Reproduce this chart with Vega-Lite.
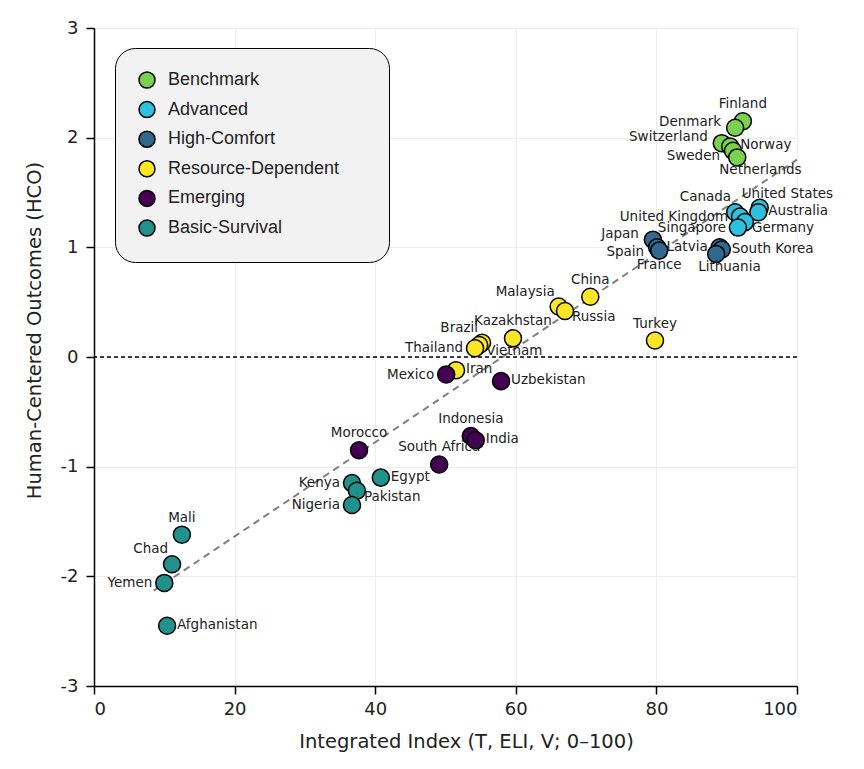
{
  "$schema": "https://vega.github.io/schema/vega-lite/v6.json",
  "width": 703,
  "height": 658,
  "autosize": {"type": "none"},
  "padding": {"left": 94, "top": 28, "right": 67, "bottom": 83},
  "background": "white",
  "config": {"view": {"stroke": null}, "font": "DejaVu Sans"},
  "datasets": {
    "countries": [
      {"country": "Finland", "group": "Benchmark", "x": 92.3, "y": 2.15, "pos": "T"},
      {"country": "Denmark", "group": "Benchmark", "x": 91.2, "y": 2.09, "pos": "LU"},
      {"country": "Switzerland", "group": "Benchmark", "x": 89.3, "y": 1.95, "pos": "LU"},
      {"country": "Norway", "group": "Benchmark", "x": 90.5, "y": 1.92, "pos": "R"},
      {"country": "Sweden", "group": "Benchmark", "x": 90.9, "y": 1.88, "pos": "LD"},
      {"country": "Netherlands", "group": "Benchmark", "x": 91.5, "y": 1.82, "pos": "BX"},
      {"country": "Canada", "group": "Advanced", "x": 91.2, "y": 1.32, "pos": "TL"},
      {"country": "United States", "group": "Advanced", "x": 94.7, "y": 1.36, "pos": "TX"},
      {"country": "Australia", "group": "Advanced", "x": 94.5, "y": 1.32, "pos": "R"},
      {"country": "United Kingdom", "group": "Advanced", "x": 91.9, "y": 1.28, "pos": "L"},
      {"country": "Germany", "group": "Advanced", "x": 92.6, "y": 1.23, "pos": "BR"},
      {"country": "Singapore", "group": "Advanced", "x": 91.6, "y": 1.18, "pos": "L"},
      {"country": "Japan", "group": "High-Comfort", "x": 79.5, "y": 1.07, "pos": "LU"},
      {"country": "Spain", "group": "High-Comfort", "x": 80.1, "y": 1.0, "pos": "LD"},
      {"country": "France", "group": "High-Comfort", "x": 80.4, "y": 0.97, "pos": "B"},
      {"country": "Latvia", "group": "High-Comfort", "x": 89.0, "y": 1.0, "pos": "L"},
      {"country": "South Korea", "group": "High-Comfort", "x": 89.3, "y": 0.98, "pos": "R"},
      {"country": "Lithuania", "group": "High-Comfort", "x": 88.5, "y": 0.94, "pos": "BX"},
      {"country": "China", "group": "Resource-Dependent", "x": 70.6, "y": 0.55, "pos": "T"},
      {"country": "Malaysia", "group": "Resource-Dependent", "x": 66.1, "y": 0.46, "pos": "TL"},
      {"country": "Russia", "group": "Resource-Dependent", "x": 67.0, "y": 0.42, "pos": "BR"},
      {"country": "Kazakhstan", "group": "Resource-Dependent", "x": 59.6, "y": 0.17, "pos": "T"},
      {"country": "Brazil", "group": "Resource-Dependent", "x": 55.2, "y": 0.13, "pos": "TL"},
      {"country": "Vietnam", "group": "Resource-Dependent", "x": 54.8, "y": 0.11, "pos": "BR"},
      {"country": "Thailand", "group": "Resource-Dependent", "x": 54.2, "y": 0.08, "pos": "L"},
      {"country": "Iran", "group": "Resource-Dependent", "x": 51.5, "y": -0.12, "pos": "R"},
      {"country": "Turkey", "group": "Resource-Dependent", "x": 79.8, "y": 0.15, "pos": "T"},
      {"country": "Mexico", "group": "Emerging", "x": 50.1, "y": -0.16, "pos": "L"},
      {"country": "Uzbekistan", "group": "Emerging", "x": 57.9, "y": -0.22, "pos": "R"},
      {"country": "Indonesia", "group": "Emerging", "x": 53.6, "y": -0.72, "pos": "T"},
      {"country": "India", "group": "Emerging", "x": 54.3, "y": -0.76, "pos": "R"},
      {"country": "Morocco", "group": "Emerging", "x": 37.7, "y": -0.85, "pos": "T"},
      {"country": "South Africa", "group": "Emerging", "x": 49.1, "y": -0.98, "pos": "T"},
      {"country": "Egypt", "group": "Basic-Survival", "x": 40.8, "y": -1.1, "pos": "R"},
      {"country": "Kenya", "group": "Basic-Survival", "x": 36.7, "y": -1.15, "pos": "L"},
      {"country": "Pakistan", "group": "Basic-Survival", "x": 37.4, "y": -1.22, "pos": "BR"},
      {"country": "Nigeria", "group": "Basic-Survival", "x": 36.7, "y": -1.35, "pos": "L"},
      {"country": "Mali", "group": "Basic-Survival", "x": 12.5, "y": -1.62, "pos": "T"},
      {"country": "Chad", "group": "Basic-Survival", "x": 11.1, "y": -1.89, "pos": "TL"},
      {"country": "Yemen", "group": "Basic-Survival", "x": 10.0, "y": -2.06, "pos": "L"},
      {"country": "Afghanistan", "group": "Basic-Survival", "x": 10.4, "y": -2.45, "pos": "R"}
    ],
    "fit": [{"x": 8.5, "y": -2.13}, {"x": 100, "y": 1.8}],
    "zero": [{"y": 0}]
  },
  "layer": [
    {
      "data": {"name": "countries"},
      "mark": {"type": "circle", "opacity": 0},
      "encoding": {
        "x": {
          "field": "x", "type": "quantitative",
          "title": "Integrated Index (T, ELI, V; 0–100)",
          "scale": {"domain": [0, 100], "nice": false, "zero": false},
          "axis": {
            "values": [0, 20, 40, 60, 80, 100],
            "labelExpr": "'' + datum.value",
            "grid": true, "gridColor": "#ededed", "gridWidth": 1,
            "domainColor": "black", "domainWidth": 1.5,
            "tickColor": "black", "tickSize": 8, "tickWidth": 1.5,
            "labelFont": "DejaVu Sans", "labelFontSize": 18, "labelColor": "#222", "labelPadding": 6,
            "titleFont": "DejaVu Sans", "titleFontSize": 19.5, "titleFontWeight": "normal", "titleColor": "#222",
            "titlePadding": 14, "titleX": 372
          }
        },
        "y": {
          "field": "y", "type": "quantitative",
          "title": "Human-Centered Outcomes (HCO)",
          "scale": {"domain": [-3, 3], "nice": false, "zero": false},
          "axis": {
            "values": [-3, -2, -1, 0, 1, 2, 3],
            "labelExpr": "'' + datum.value",
            "grid": true, "gridColor": "#ededed", "gridWidth": 1,
            "domainColor": "black", "domainWidth": 1.5,
            "tickColor": "black", "tickSize": 8, "tickWidth": 1.5,
            "labelFont": "DejaVu Sans", "labelFontSize": 18, "labelColor": "#222", "labelPadding": 8,
            "titleFont": "DejaVu Sans", "titleFontSize": 19.5, "titleFontWeight": "normal", "titleColor": "#222",
            "titlePadding": 16, "titleY": 302
          }
        }
      }
    },
    {
      "data": {"name": "zero"},
      "mark": {"type": "rule", "color": "black", "strokeDash": [4, 3], "strokeWidth": 1.3},
      "encoding": {"y": {"field": "y", "type": "quantitative"}}
    },
    {
      "data": {"name": "fit"},
      "mark": {"type": "line", "color": "#808080", "strokeDash": [7, 5], "strokeWidth": 2},
      "encoding": {
        "x": {"field": "x", "type": "quantitative"},
        "y": {"field": "y", "type": "quantitative"}
      }
    },
    {
      "data": {"name": "countries"},
      "mark": {"type": "circle", "size": 290, "stroke": "black", "strokeWidth": 1.5, "opacity": 1},
      "encoding": {
        "x": {"field": "x", "type": "quantitative"},
        "y": {"field": "y", "type": "quantitative"},
        "fill": {
          "field": "group", "type": "nominal",
          "scale": {
            "domain": ["Benchmark", "Advanced", "High-Comfort", "Resource-Dependent", "Emerging", "Basic-Survival"],
            "range": ["#7ad151", "#2ec0df", "#31688e", "#fde725", "#440154", "#21918c"]
          },
          "legend": {
            "orient": "none", "legendX": 21, "legendY": 20, "title": null,
            "fillColor": "#f2f2f2", "strokeColor": "black", "cornerRadius": 20,
            "padding": 23, "symbolType": "circle", "symbolSize": 256,
            "symbolStrokeColor": "black", "symbolStrokeWidth": 1.5,
            "labelFont": "Liberation Sans", "labelFontSize": 18, "labelColor": "#222",
            "labelOffset": 12, "rowPadding": 7.6, "labelLimit": 400,
            "labelExpr": "datum.label + '\u2800\u2800'",
            "encode": {"legend": {"update": {"strokeWidth": {"value": 1.5}}}}
          }
        }
      }
    },
    {
      "data": {"name": "countries"},
      "transform": [{"filter": "datum.pos === 'R'"}],
      "mark": {"type": "text", "font": "DejaVu Sans", "fontSize": 13.5, "color": "#222", "align": "left", "baseline": "middle", "dx": 10, "dy": -1},
      "encoding": {"x": {"field": "x", "type": "quantitative"}, "y": {"field": "y", "type": "quantitative"}, "text": {"field": "country"}}
    },
    {
      "data": {"name": "countries"},
      "transform": [{"filter": "datum.pos === 'L'"}],
      "mark": {"type": "text", "font": "DejaVu Sans", "fontSize": 13.5, "color": "#222", "align": "right", "baseline": "middle", "dx": -12, "dy": 0},
      "encoding": {"x": {"field": "x", "type": "quantitative"}, "y": {"field": "y", "type": "quantitative"}, "text": {"field": "country"}}
    },
    {
      "data": {"name": "countries"},
      "transform": [{"filter": "datum.pos === 'LU'"}],
      "mark": {"type": "text", "font": "DejaVu Sans", "fontSize": 13.5, "color": "#222", "align": "right", "baseline": "middle", "dx": -14, "dy": -6},
      "encoding": {"x": {"field": "x", "type": "quantitative"}, "y": {"field": "y", "type": "quantitative"}, "text": {"field": "country"}}
    },
    {
      "data": {"name": "countries"},
      "transform": [{"filter": "datum.pos === 'LD'"}],
      "mark": {"type": "text", "font": "DejaVu Sans", "fontSize": 13.5, "color": "#222", "align": "right", "baseline": "middle", "dx": -13, "dy": 5},
      "encoding": {"x": {"field": "x", "type": "quantitative"}, "y": {"field": "y", "type": "quantitative"}, "text": {"field": "country"}}
    },
    {
      "data": {"name": "countries"},
      "transform": [{"filter": "datum.pos === 'T'"}],
      "mark": {"type": "text", "font": "DejaVu Sans", "fontSize": 13.5, "color": "#222", "align": "center", "baseline": "middle", "dy": -17},
      "encoding": {"x": {"field": "x", "type": "quantitative"}, "y": {"field": "y", "type": "quantitative"}, "text": {"field": "country"}}
    },
    {
      "data": {"name": "countries"},
      "transform": [{"filter": "datum.pos === 'TL'"}],
      "mark": {"type": "text", "font": "DejaVu Sans", "fontSize": 13.5, "color": "#222", "align": "right", "baseline": "middle", "dx": -4, "dy": -15},
      "encoding": {"x": {"field": "x", "type": "quantitative"}, "y": {"field": "y", "type": "quantitative"}, "text": {"field": "country"}}
    },
    {
      "data": {"name": "countries"},
      "transform": [{"filter": "datum.pos === 'TX'"}],
      "mark": {"type": "text", "font": "DejaVu Sans", "fontSize": 13.5, "color": "#222", "align": "left", "baseline": "middle", "dx": -18, "dy": -14},
      "encoding": {"x": {"field": "x", "type": "quantitative"}, "y": {"field": "y", "type": "quantitative"}, "text": {"field": "country"}}
    },
    {
      "data": {"name": "countries"},
      "transform": [{"filter": "datum.pos === 'B'"}],
      "mark": {"type": "text", "font": "DejaVu Sans", "fontSize": 13.5, "color": "#222", "align": "center", "baseline": "middle", "dy": 14},
      "encoding": {"x": {"field": "x", "type": "quantitative"}, "y": {"field": "y", "type": "quantitative"}, "text": {"field": "country"}}
    },
    {
      "data": {"name": "countries"},
      "transform": [{"filter": "datum.pos === 'BX'"}],
      "mark": {"type": "text", "font": "DejaVu Sans", "fontSize": 13.5, "color": "#222", "align": "left", "baseline": "middle", "dx": -18, "dy": 13},
      "encoding": {"x": {"field": "x", "type": "quantitative"}, "y": {"field": "y", "type": "quantitative"}, "text": {"field": "country"}}
    },
    {
      "data": {"name": "countries"},
      "transform": [{"filter": "datum.pos === 'BR'"}],
      "mark": {"type": "text", "font": "DejaVu Sans", "fontSize": 13.5, "color": "#222", "align": "left", "baseline": "middle", "dx": 7, "dy": 6},
      "encoding": {"x": {"field": "x", "type": "quantitative"}, "y": {"field": "y", "type": "quantitative"}, "text": {"field": "country"}}
    }
  ]
}
